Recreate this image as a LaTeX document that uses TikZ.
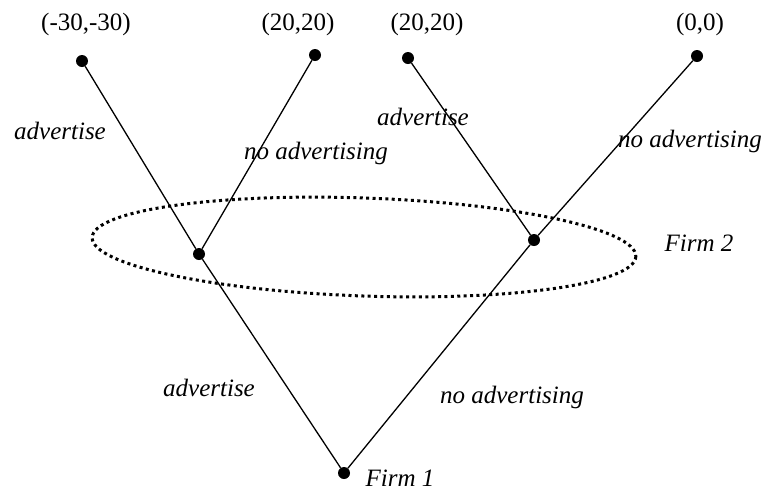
\documentclass[tikz,border=0pt]{standalone}
\usepackage{fontspec}
\setmainfont{Liberation Serif}
\usepackage{tikz}
\usetikzlibrary{positioning}

\newcommand{\treefont}{\fontsize{25}{30}\selectfont}

\tikzset{
  dot/.style={circle,fill=black,inner sep=0pt,minimum size=12pt},
  move/.style={font=\treefont\itshape},
  pay/.style={font=\treefont},
  branch/.style={line width=1.3pt},
}

\begin{document}
\begin{tikzpicture}[x=1pt,y=-1pt]
  \useasboundingbox (0,0) rectangle (764,491);
  % decision nodes
  \node[dot] (f1) at (344,473) {};
  \node[dot] (l) at (199,254) {};
  \node[dot] (r) at (534,240) {};
  % end nodes and payoffs
  \foreach \n/\x/\y/\px/\lab in {ll/82/61/86/{(-30,-30)},lr/315/55/298/{(20,20)},rl/408/58/427/{(20,20)},rr/697/56/700/{(0,0)}}{
    \node[dot] (\n) at (\x,\y) {};
    \node[pay] at (\px,24) {\lab};
  }
  % information set of firm 2
  \draw[line width=3pt,dash pattern=on 3pt off 3.4pt,rotate around={-2:(364,247)}] (364,247) ellipse [x radius=272, y radius=49];
  % branches
  \draw[branch] (f1) -- (l);
  \draw[branch] (f1) -- (r);
  \draw[branch] (l) -- (ll);
  \draw[branch] (l) -- (lr);
  \draw[branch] (r) -- (rl);
  \draw[branch] (r) -- (rr);
  % labels
  \node[move] at (60,131) {advertise};
  \node[move] at (316,153) {no advertising};
  \node[move] at (423,117) {advertise};
  \node[move] at (690,141) {no advertising};
  \node[move] at (209,388) {advertise};
  \node[move] at (512,397) {no advertising};
  \node[move] at (699,243) {Firm 2};
  \node[move] at (400,478) {Firm 1};
\end{tikzpicture}
\end{document}
